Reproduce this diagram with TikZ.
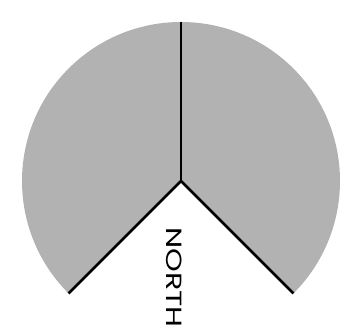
\documentclass[tikz,border=0pt]{standalone}
\usepackage{fontspec}
\setmainfont{Poppins}
\usetikzlibrary{calc}
\begin{document}
\begin{tikzpicture}[x=1pt,y=1pt]
\useasboundingbox (0,0) rectangle (350,336);
\coordinate (c) at (181,155);
\coordinate (top) at ($(c)+(90:159)$);
\coordinate (left) at ($(c)+(225:159)$);
\coordinate (right) at ($(c)+(-45:159)$);

\fill[black!30] (c) -- (right) arc[start angle=-45, end angle=225, radius=159] -- cycle;

\draw[line width=2.6pt] (c) -- (top);
\draw[line width=2.6pt] (c) -- (left);
\draw[line width=2.6pt] (c) -- (right);

\node[rotate=-90, font=\fontsize{22}{22}\selectfont, inner sep=0pt] (north) at (174.5,58.5) {\scalebox{1.37}[1]{NORTH}};
\end{tikzpicture}
\end{document}
